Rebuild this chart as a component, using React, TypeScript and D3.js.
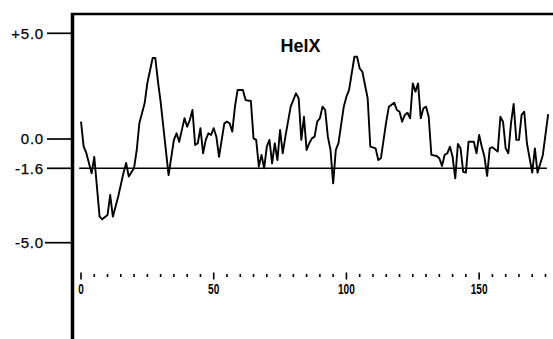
import React from "react";
import * as d3 from "d3";

const residues = [0,1,2,4,5,7,8,10,11,12,14,16,17,18,20,21,22,24,25,27,28,29,30,33,35,36,37,38,39,40,41,42,43,44,45,46,47,48,49,50,51,52,54,55,56,57,58,59,61,62,64,65,66,67,68,69,70,71,72,73,74,75,76,77,79,81,82,83,84,85,86,87,88,89,90,91,92,93,94,95,96,97,99,100,101,103,104,105,106,108,109,111,112,113,115,116,118,119,120,121,122,123,124,125,126,127,128,129,130,131,132,134,135,136,137,138,139,140,141,142,143,144,145,146,147,148,149,150,151,152,153,154,155,157,158,159,160,161,162,163,164,165,166,167,168,170,171,172,174,176];
const values = [0.82,-0.42,-0.76,-1.83,-0.98,-3.81,-3.93,-3.73,-2.82,-3.81,-2.9,-1.81,-1.31,-1.98,-1.58,-0.6,0.76,1.7,2.65,3.83,3.83,2.71,1.76,-1.91,-0.05,0.27,-0.15,0.43,0.98,0.58,0.9,1.37,-0.33,-0.23,0.51,-0.78,-0.05,0.27,0.19,0.51,0.11,-0.97,0.74,0.82,0.74,0.35,1.53,2.32,2.32,1.84,1.8,0.03,-0.05,-1.51,-0.87,-1.6,-0.42,-0.05,-1.33,-0.23,-1.15,0.43,-0.78,0.11,1.53,2.16,1.93,-0.05,1.05,-0.6,-0.23,0.03,0.11,0.82,0.98,1.53,1.37,0.11,-0.6,-2.29,-0.6,-0.23,1.53,2.0,2.32,3.89,3.89,3.34,3.18,1.93,-0.42,-0.51,-1.15,-1.05,0.82,1.53,1.72,1.37,1.29,0.82,1.14,1.24,0.98,2.63,2.24,2.63,0.98,1.45,1.53,1.05,-0.87,-0.93,-1.05,-1.47,-0.87,-0.78,-0.42,-0.97,-2.06,-0.27,-0.51,-1.76,-1.8,-0.15,-0.15,-0.15,-0.78,0.19,-0.42,-0.97,-1.95,-0.51,-0.45,-0.69,1.05,0.82,-0.51,-0.78,0.74,1.66,-0.05,-0.05,1.14,1.29,-0.23,-1.8,-0.51,-1.8,-0.87,1.18];

const yTickValues = [5, 0, -1.6, -5];
const yTickLabels = ["+5.0", "0.0", "-1.6", "-5.0"];
const xMajorTicks = [0, 50, 100, 150];
const xTickLabels = ["0", "50", "100", "150"];
const threshold = -1.6;
const title = "HelX";

export default function App() {
  const x = d3.scaleLinear().domain([0, 175]).range([81, 545.5]);
  const y = d3.scaleLinear().domain([-5, -1.6, 0, 5]).range([242.7, 168.3, 139, 33.3]);
  const pts: [number, number][] = residues.map((r, i) => [r, values[i]]);
  const line = d3.line<[number, number]>().x(d => x(d[0])).y(d => y(d[1]));
  const minor = d3.range(0, 176, 5);
  const font = "'Liberation Sans', Arial, sans-serif";
  return (
    <svg width={553} height={339} style={{ position: "absolute", left: 0, top: 0, background: "#fff" }}>
      <rect x={0} y={0} width={553} height={339} fill="#fff" />
      {/* frame */}
      <line x1={72.5} y1={13} x2={72.5} y2={339} stroke="#000" strokeWidth={3.5} />
      <line x1={71} y1={14} x2={553} y2={14} stroke="#000" strokeWidth={2.5} />
      {/* y ticks */}
      {yTickValues.map((v, i) => (
        <g key={i}>
          <line x1={i === 3 ? 45 : 47} x2={71} y1={y(v)} y2={y(v)} stroke="#000" strokeWidth={1.7} />
          <text x={44} y={y(v)} dy="0.36em" textAnchor="end" fontFamily={font} fontSize={15} letterSpacing={0.8} fill="#000" stroke="#000" strokeWidth={0.25}>
            {yTickLabels[i]}
          </text>
        </g>
      ))}
      {/* threshold line */}
      <line x1={x(-0.7)} x2={x(175.5)} y1={y(threshold)} y2={y(threshold)} stroke="#000" strokeWidth={1.5} />
      {/* profile */}
      <path d={line(pts) || ""} fill="none" stroke="#000" strokeWidth={1.9} strokeLinejoin="round" />
      {/* title */}
      <text x={300.5} y={46} dy="0.36em" textAnchor="middle" fontFamily={font} fontWeight="bold" fontSize={18} fill="#000">
        {title}
      </text>
      {/* x ticks */}
      {minor.map(t => {
        const major = xMajorTicks.includes(t);
        return (
          <line key={t} x1={x(t)} x2={x(t)} y1={major ? 272.5 : 274} y2={major ? 279.5 : 277} stroke="#000" strokeWidth={1.6} />
        );
      })}
      {xMajorTicks.map((t, i) => (
        <text key={t} transform={`translate(${x(t)},293.5) scale(0.72,1)`} textAnchor="middle" fontFamily={font} fontWeight="bold" fontSize={14} fill="#000">
          {xTickLabels[i]}
        </text>
      ))}
    </svg>
  );
}
